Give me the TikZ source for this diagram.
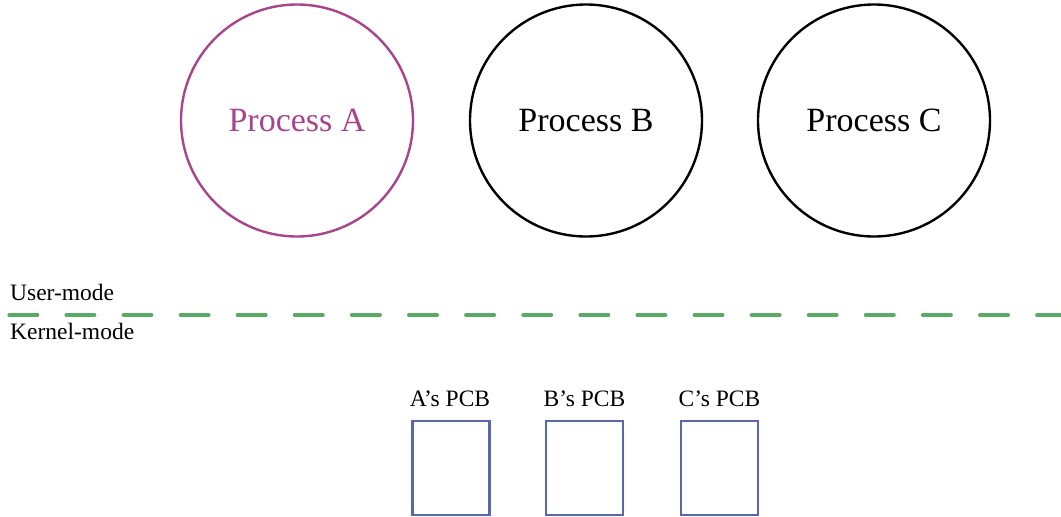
\documentclass[tikz,border=0pt]{standalone}
\usepackage{fontspec}
\setmainfont{Liberation Serif}
\definecolor{procA}{RGB}{168,68,140}
\definecolor{modeline}{RGB}{88,170,100}
\definecolor{pcbblue}{RGB}{88,104,172}
\begin{document}
\begin{tikzpicture}[x=1pt,y=-1pt,
  proc/.style={circle,draw,line width=2.4pt,minimum size=232pt,inner sep=0pt,font=\fontsize{34}{40}\selectfont},
  pcb/.style={rectangle,draw=pcbblue,line width=2.4pt,minimum width=77pt,minimum height=94.5pt,inner sep=0pt},
  small/.style={font=\fontsize{23.5}{28}\selectfont,inner sep=0pt}]
\useasboundingbox (0,0) rectangle (1061,517);
\node[proc,draw=procA,text=procA] (pa) at (297,120.5) {Process A};
\node[proc] (pb) at (586,120.5) {Process B};
\node[proc] (pc) at (874,120.5) {Process C};
\coordinate (ls) at (9.3,315);
\coordinate (le) at (1061,315);
\draw[modeline,line width=4pt,line cap=round,dash pattern=on 28pt off 29.1pt] (ls) -- (le);
\node[small,anchor=base west] (um) at (10,300.7) {User-mode};
\node[small,anchor=base west] (km) at (10,339.3) {Kernel-mode};
\node[pcb] (ba) at (451,468) {};
\node[pcb] (bb) at (584.5,468) {};
\node[pcb] (bc) at (719.5,468) {};
\node[small,anchor=base] (la) at (450,406.7) {A’s PCB};
\node[small,anchor=base] (lb) at (584.5,406.7) {B’s PCB};
\node[small,anchor=base] (lc) at (719.5,406.7) {C’s PCB};
\end{tikzpicture}
\end{document}
